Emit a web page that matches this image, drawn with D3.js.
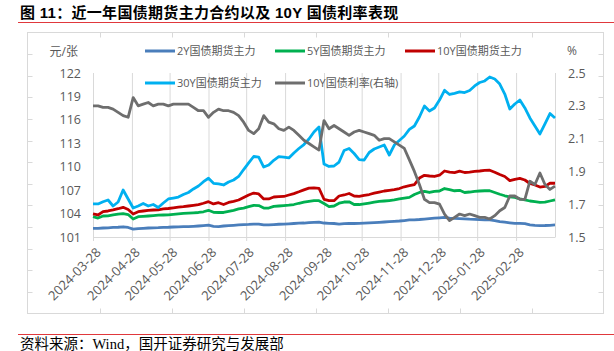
<!DOCTYPE html>
<html>
<head>
<meta charset="utf-8">
<script src="https://cdn.jsdelivr.net/npm/d3@7"></script>
<style>
  body { margin: 0; background: #fff; }
  svg { display: block; }
</style>
</head>
<body>
<div id="chart"></div>
<script>
// trading dates sampled every 4 days, 2024-03-28 .. 2025-03-31
const dates = [
  '2024-03-28', '2024-04-01', '2024-04-05', '2024-04-09', '2024-04-13', '2024-04-17', '2024-04-21', '2024-04-25', '2024-04-29', '2024-05-03',
  '2024-05-07', '2024-05-11', '2024-05-15', '2024-05-19', '2024-05-23', '2024-05-27', '2024-05-31', '2024-06-04', '2024-06-08', '2024-06-12',
  '2024-06-16', '2024-06-20', '2024-06-24', '2024-06-28', '2024-07-02', '2024-07-06', '2024-07-10', '2024-07-14', '2024-07-18', '2024-07-22',
  '2024-07-26', '2024-07-30', '2024-08-03', '2024-08-07', '2024-08-11', '2024-08-15', '2024-08-19', '2024-08-23', '2024-08-27', '2024-08-31',
  '2024-09-04', '2024-09-08', '2024-09-12', '2024-09-16', '2024-09-20', '2024-09-24', '2024-09-28', '2024-10-02', '2024-10-06', '2024-10-10',
  '2024-10-14', '2024-10-18', '2024-10-22', '2024-10-26', '2024-10-30', '2024-11-03', '2024-11-07', '2024-11-11', '2024-11-15', '2024-11-19',
  '2024-11-23', '2024-11-27', '2024-12-01', '2024-12-05', '2024-12-09', '2024-12-13', '2024-12-17', '2024-12-21', '2024-12-25', '2024-12-29',
  '2025-01-02', '2025-01-06', '2025-01-10', '2025-01-14', '2025-01-18', '2025-01-22', '2025-01-26', '2025-01-30', '2025-02-03', '2025-02-07',
  '2025-02-11', '2025-02-15', '2025-02-19', '2025-02-23', '2025-02-27', '2025-03-03', '2025-03-07', '2025-03-11', '2025-03-15', '2025-03-19',
  '2025-03-23', '2025-03-27', '2025-03-31'
];

const bond2y = [
  102.11, 102.11, 102.15, 102.18, 102.22, 102.25, 102.31, 102.22, 102.00, 102.08,
  102.11, 102.15, 102.18, 102.20, 102.24, 102.25, 102.28, 102.29, 102.32, 102.34,
  102.37, 102.41, 102.46, 102.51, 102.37, 102.34, 102.41, 102.46, 102.50, 102.54,
  102.58, 102.61, 102.66, 102.64, 102.54, 102.54, 102.58, 102.63, 102.66, 102.69,
  102.73, 102.77, 102.79, 102.84, 102.88, 102.90, 102.79, 102.75, 102.73, 102.66,
  102.72, 102.75, 102.73, 102.74, 102.77, 102.81, 102.84, 102.88, 102.92, 102.96,
  103.01, 103.05, 103.11, 103.18, 103.20, 103.24, 103.30, 103.36, 103.41, 103.46,
  103.50, 103.41, 103.38, 103.36, 103.33, 103.28, 103.25, 103.23, 103.20, 103.18,
  103.10, 102.98, 102.90, 102.82, 102.75, 102.74, 102.72, 102.56, 102.50, 102.46,
  102.47, 102.50, 102.54
];

const bond5y = [
  103.60, 103.43, 103.69, 103.71, 103.82, 103.92, 104.00, 103.88, 103.30, 103.60,
  103.65, 103.69, 103.74, 103.79, 103.82, 103.84, 103.91, 103.97, 104.03, 104.07,
  104.10, 104.14, 104.23, 104.42, 104.16, 104.14, 104.14, 104.29, 104.42, 104.59,
  104.71, 104.88, 105.06, 105.03, 104.71, 104.71, 104.93, 104.97, 105.02, 105.07,
  105.16, 105.32, 105.46, 105.57, 105.65, 105.65, 105.29, 104.89, 104.97, 105.33,
  105.48, 105.51, 105.16, 105.16, 105.25, 105.35, 105.46, 105.55, 105.61, 105.67,
  105.74, 105.87, 105.97, 106.07, 106.44, 106.70, 106.85, 106.70, 106.83, 106.89,
  107.21, 107.08, 106.92, 106.98, 106.70, 106.76, 106.85, 106.89, 106.92, 106.92,
  106.70, 106.47, 106.28, 106.15, 106.08, 105.89, 105.74, 105.61, 105.52, 105.44,
  105.46, 105.61, 105.74
];

const bond10y = [
  103.95, 103.82, 104.24, 104.33, 104.46, 104.62, 104.80, 104.52, 103.95, 104.24,
  104.33, 104.42, 104.46, 104.48, 104.59, 104.65, 104.74, 104.82, 104.88, 104.97,
  105.06, 105.15, 105.32, 105.52, 105.23, 105.39, 105.16, 105.42, 105.57, 105.74,
  106.06, 106.38, 106.63, 106.51, 105.87, 105.87, 106.12, 106.16, 106.19, 106.38,
  106.56, 106.79, 107.04, 107.25, 107.30, 107.24, 105.83, 105.65, 105.65, 106.25,
  106.38, 106.57, 106.25, 106.21, 106.34, 106.44, 106.61, 106.76, 106.89, 106.98,
  107.08, 107.21, 107.43, 107.57, 107.72, 108.55, 108.90, 108.81, 108.75, 108.91,
  109.45, 109.30, 109.25, 109.43, 109.26, 109.32, 109.41, 109.45, 109.52, 109.55,
  109.30, 109.00, 108.75, 108.23, 108.39, 108.50, 108.30, 107.85, 107.66, 107.40,
  107.47, 107.91, 107.88
];

const bond30y = [
  105.23, 105.23, 105.52, 105.74, 104.97, 105.48, 107.02, 105.87, 104.71, 104.97,
  105.29, 104.97, 105.16, 104.78, 105.35, 105.87, 105.99, 106.12, 106.44, 106.70,
  107.15, 107.53, 108.08, 108.52, 107.88, 107.79, 107.66, 108.04, 108.30, 108.75,
  109.64, 110.48, 111.31, 111.24, 109.96, 110.22, 110.82, 111.28, 111.24, 111.12,
  111.76, 112.33, 112.84, 113.55, 114.45, 115.09, 110.35, 110.03, 110.09, 110.60,
  112.08, 112.33, 111.69, 110.92, 110.86, 111.82, 112.27, 112.52, 112.78, 111.50,
  112.78, 113.36, 113.93, 114.77, 115.21, 116.37, 117.77, 117.13, 117.52, 118.54,
  119.78, 119.25, 119.40, 119.57, 119.50, 119.76, 120.34, 120.78, 120.98, 121.49,
  121.23, 120.59, 119.31, 117.39, 118.03, 118.54, 117.52, 116.24, 115.21, 114.19,
  115.47, 116.81, 116.24
];

// 10Y government bond yield, %, right axis
const yield10y = [
  2.30, 2.30, 2.29, 2.29, 2.28, 2.26, 2.24, 2.23, 2.35, 2.30,
  2.31, 2.32, 2.30, 2.31, 2.31, 2.30, 2.31, 2.31, 2.31, 2.31,
  2.29, 2.27, 2.27, 2.23, 2.26, 2.28, 2.27, 2.27, 2.26, 2.24,
  2.20, 2.15, 2.13, 2.16, 2.24, 2.20, 2.19, 2.16, 2.15, 2.17,
  2.15, 2.12, 2.09, 2.07, 2.05, 2.03, 2.21, 2.16, 2.18, 2.16,
  2.14, 2.12, 2.14, 2.15, 2.14, 2.13, 2.12, 2.09, 2.10, 2.10,
  2.08, 2.06, 2.04, 1.97, 1.90, 1.82, 1.73, 1.71, 1.71, 1.70,
  1.64, 1.60, 1.62, 1.64, 1.63, 1.64, 1.63, 1.62, 1.62, 1.61,
  1.63, 1.66, 1.68, 1.75, 1.75, 1.73, 1.73, 1.84, 1.82, 1.89,
  1.82, 1.79, 1.81
];

const seriesNames = ['2Y国债期货主力', '5Y国债期货主力', '10Y国债期货主力', '30Y国债期货主力', '10Y国债利率(右轴)'];
const leftTicks = [101, 104, 107, 110, 113, 116, 119, 122];
const rightTicks = [1.5, 1.7, 1.9, 2.1, 2.3, 2.5];
const dateTicks = [
  '2024-03-28', '2024-04-28', '2024-05-28', '2024-06-28', '2024-07-28', '2024-08-28',
  '2024-09-28', '2024-10-28', '2024-11-28', '2024-12-28', '2025-01-28', '2025-02-28'
];

const titleText = '图 11：近一年国债期货主力合约以及 10Y 国债利率表现';
const sourceText = '资料来源：Wind，国开证券研究与发展部';

const OPTS = {
  width: 614,
  height: 351,
  plot: { left: 93, right: 555, top: 73, bottom: 237 },
  colors: ['#4a7ebb', '#00b050', '#c00000', '#00b0f0', '#6e6e6e'],
  lineWidth: 2.8,
  grid: '#d9d9d9',
  text: '#595959',
  red: '#e0383c',
  font: "'Open Sans', 'Noto Sans CJK SC', sans-serif"
};

const parse = d3.timeParse('%Y-%m-%d');
const days = dates.map(parse);
const P = OPTS.plot;

const x = d3.scaleTime()
  .domain([days[0], days[days.length - 1]])
  .range([P.left, P.right]);
const yLeft = d3.scaleLinear().domain([101, 122]).range([P.bottom, P.top]);
const yRight = d3.scaleLinear().domain([1.5, 2.5]).range([P.bottom, P.top]);

const series = [bond2y, bond5y, bond10y, bond30y, yield10y].map((values, i) => ({
  name: seriesNames[i],
  color: OPTS.colors[i],
  y: i === 4 ? yRight : yLeft,
  points: values.map((v, j) => ({ date: days[j], value: v }))
}));

const svg = d3.select('#chart')
  .append('svg')
  .attr('width', OPTS.width)
  .attr('height', OPTS.height)
  .style('font-family', OPTS.font);

// title + red rules
svg.append('text')
  .attr('x', 20)
  .attr('y', 17.5)
  .style('font-family', "'Liberation Sans', 'Noto Sans CJK SC', sans-serif")
  .style('font-size', '15px')
  .style('font-weight', 'bold')
  .style('letter-spacing', '0.3px')
  .attr('fill', '#000')
  .text(titleText);

[22.5, 334.5].forEach(yy => {
  svg.append('line')
    .attr('x1', 18).attr('x2', OPTS.width)
    .attr('y1', yy).attr('y2', yy)
    .attr('stroke', OPTS.red)
    .attr('stroke-width', 1);
});

svg.append('text')
  .attr('x', 20)
  .attr('y', 349)
  .style('font-family', "'Liberation Serif', 'Noto Sans CJK SC', serif")
  .style('font-size', '14.5px')
  .attr('fill', '#000')
  .text(sourceText);

// outer chart frame with the little inner ticks
const frame = { x0: 27.5, y0: 32.5, x1: 603.5, y1: 313.5 };
const fg = svg.append('g').attr('stroke', OPTS.grid).attr('fill', 'none');
fg.append('rect')
  .attr('x', frame.x0).attr('y', frame.y0)
  .attr('width', frame.x1 - frame.x0)
  .attr('height', frame.y1 - frame.y0);
const hStep = (frame.x1 - frame.x0) / 8;
const vStep = (frame.y1 - frame.y0) / 13;
for (let i = 1; i < 8; i++) {
  const fx = Math.round(frame.x0 + i * hStep) + 0.5;
  fg.append('line').attr('x1', fx).attr('x2', fx).attr('y1', frame.y0).attr('y2', frame.y0 + 5);
  fg.append('line').attr('x1', fx).attr('x2', fx).attr('y1', frame.y1).attr('y2', frame.y1 - 5);
}
for (let i = 1; i < 13; i++) {
  const fy = Math.round(frame.y0 + i * vStep) + 0.5;
  fg.append('line').attr('x1', frame.x0).attr('x2', frame.x0 + 5).attr('y1', fy).attr('y2', fy);
  fg.append('line').attr('x1', frame.x1).attr('x2', frame.x1 - 5).attr('y1', fy).attr('y2', fy);
}

// vertical gridlines
svg.append('g')
  .attr('transform', 'translate(0,' + P.bottom + ')')
  .call(d3.axisBottom(x).tickValues(dateTicks.map(parse)).tickSize(-(P.bottom - P.top)).tickFormat(''))
  .call(g => g.select('.domain').remove())
  .call(g => g.selectAll('.tick line').attr('stroke', OPTS.grid).attr('stroke-width', 1));

svg.append('line')
  .attr('x1', P.right + 0.5).attr('x2', P.right + 0.5)
  .attr('y1', P.top).attr('y2', P.bottom)
  .attr('stroke', OPTS.grid);

// x axis
const xAxis = svg.append('g')
  .attr('transform', 'translate(0,' + P.bottom + ')')
  .call(d3.axisBottom(x)
    .tickValues(dateTicks.map(parse))
    .tickSize(4)
    .tickSizeOuter(0)
    .tickFormat(d3.timeFormat('%Y-%m-%d')));
xAxis.select('.domain').attr('stroke', OPTS.grid);
xAxis.selectAll('.tick line').attr('stroke', OPTS.grid);
xAxis.selectAll('.tick text')
  .attr('fill', OPTS.text)
  .style('font-size', '13px')
  .style('font-family', OPTS.font)
  .attr('text-anchor', 'end')
  .attr('x', 0).attr('y', 0).attr('dy', '0.35em')
  .attr('transform', 'translate(5,13) rotate(-45)');

// y axes
const leftAxis = svg.append('g')
  .attr('transform', 'translate(' + P.left + ',0)')
  .call(d3.axisLeft(yLeft).tickValues(leftTicks).tickSize(0).tickPadding(12));
const rightAxis = svg.append('g')
  .attr('transform', 'translate(' + P.right + ',0)')
  .call(d3.axisRight(yRight).tickValues(rightTicks).tickSize(0).tickPadding(13).tickFormat(d3.format('.1f')));
[leftAxis, rightAxis].forEach(g => {
  g.select('.domain').remove();
  g.selectAll('.tick text')
    .attr('fill', OPTS.text)
    .style('font-size', '12.5px')
    .style('font-family', OPTS.font);
});

svg.append('text')
  .attr('x', 78).attr('y', 52).attr('dy', '0.35em')
  .attr('text-anchor', 'end')
  .attr('fill', OPTS.text)
  .style('font-size', '12px')
  .text('元/张');
svg.append('text')
  .attr('x', 567).attr('y', 51).attr('dy', '0.35em')
  .attr('fill', OPTS.text)
  .style('font-size', '12px')
  .text('%');

// series lines
const plotG = svg.append('g');
series.forEach(s => {
  plotG.append('path')
    .datum(s.points)
    .attr('fill', 'none')
    .attr('stroke', s.color)
    .attr('stroke-width', OPTS.lineWidth)
    .attr('stroke-linejoin', 'round')
    .attr('d', d3.line().x(d => x(d.date)).y(d => s.y(d.value)));
});

// legend, two rows
const legendPos = [[145, 51], [275, 51], [405, 51], [145, 83], [275, 83]];
const legend = svg.append('g')
  .selectAll('g')
  .data(series)
  .enter()
  .append('g')
  .attr('transform', (d, i) => 'translate(' + legendPos[i][0] + ',' + legendPos[i][1] + ')');
legend.append('line')
  .attr('x1', 0).attr('x2', 30)
  .attr('stroke', d => d.color)
  .attr('stroke-width', 3);
legend.append('text')
  .attr('x', 32).attr('dy', '0.35em')
  .attr('fill', OPTS.text)
  .style('font-size', '11px')
  .text(d => d.name);
</script>
</body>
</html>
